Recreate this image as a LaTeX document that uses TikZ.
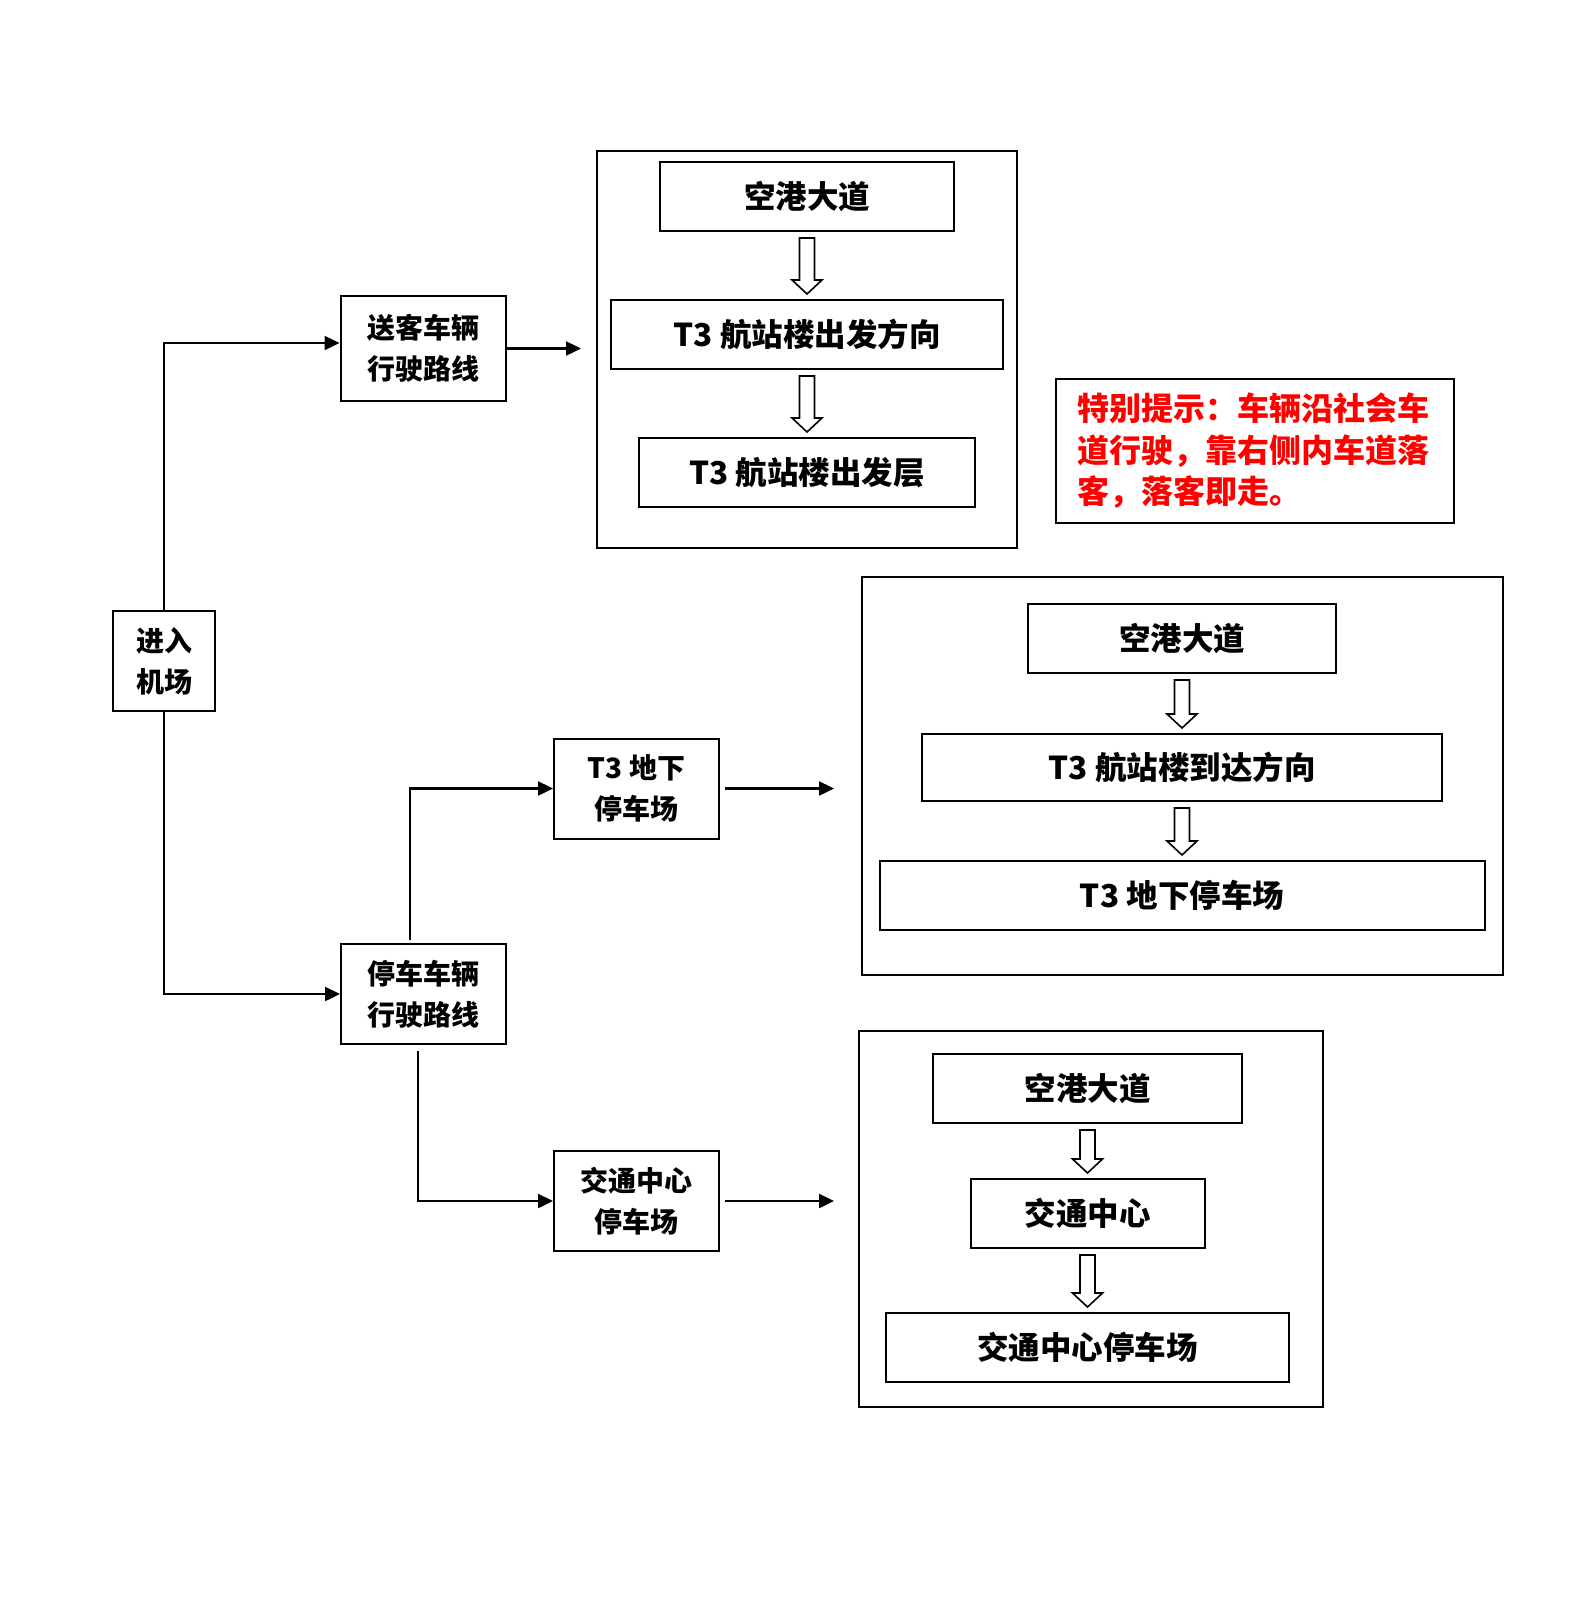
\documentclass[tikz,border=0pt]{standalone}
\usepackage{fontspec}
\setmainfont{Noto Sans CJK SC}
\usetikzlibrary{positioning}
\usetikzlibrary{arrows.meta}
\usetikzlibrary{calc}
\newcommand{\smallcn}{\fontsize{14pt}{20.5pt}\selectfont\bfseries}
\newcommand{\bigcn}{\fontsize{15.75pt}{20pt}\selectfont\bfseries}
\newcommand{\notecn}{\fontsize{16pt}{20.75pt}\selectfont\bfseries}
\tikzset{
  % A route box on the left side
  stepbox/.style={
    draw=black, line width=1pt, align=center, font=\smallcn,
    inner sep=2pt, minimum width=82.5pt, minimum height=50pt},
  % A road or terminal box inside a group
  roadbox/.style={
    draw=black, line width=1pt, align=center, font=\bigcn,
    inner sep=2pt, minimum height=34.5pt, minimum width=#1},
  % A frame around one route
  groupbox/.style={draw=black, line width=1pt, inner sep=0pt},
  % The red hint
  hintbox/.style={
    draw=black, line width=1pt, align=left, font=\notecn, text=red,
    text width=178pt, minimum width=199pt, minimum height=72pt, inner sep=0pt},
  % Connectors
  flow/.style={-{Triangle[length=7.5pt,width=7pt]}, draw=black, line width=1.2pt},
  hollow/.style={draw=black, line width=0.8pt, fill=white, line join=miter},
}
% A hollow block arrow pointing down from one box to the next
\newcommand{\hollowdown}[2]{%
  \draw[hollow] let \p1=($(#1.south)+(0,-3pt)$), \p2=($(#2.north)+(0,2.5pt)$) in
    (\x1-3.75pt,\y1) -- (\x1+3.75pt,\y1) -- (\x1+3.75pt,\y2+7pt) -- (\x1+7.5pt,\y2+7pt)
    -- (\x1,\y2) -- (\x1-7.5pt,\y2+7pt) -- (\x1-3.75pt,\y2+7pt) -- cycle;}

\begin{document}
\begin{tikzpicture}[x=0.5pt, y=-0.5pt]

\useasboundingbox (0,0) rectangle (1594,1600);

% left side
\node[stepbox, minimum width=51pt] (entry) at (164,661) {进入\\机场};
\node[stepbox, minimum height=52.5pt] (drop) at (423,348.5) {送客车辆\\行驶路线};
\node[stepbox] (park) at (423.5,994) {停车车辆\\行驶路线};
\node[stepbox] (t3park) at (636.5,788.5) {T3 地下\\停车场};
\node[stepbox] (gtc) at (636.5,1201) {交通中心\\停车场};

% drop-off route
\node[groupbox, minimum width=210pt, minimum height=198.5pt] (grp1) at (807,349.5) {};
\node[roadbox=147pt] (dep1) at (807,196.5) {空港大道};
\node[roadbox=196pt, below=33.5pt of dep1] (dep2) {T3 航站楼出发方向};
\node[roadbox=168pt, below=33.5pt of dep2] (dep3) {T3 航站楼出发层};
\hollowdown{dep1}{dep2}
\hollowdown{dep2}{dep3}

\node[hintbox] (hint) at (1255,451)
  {特别提示：车辆沿社会车\\道行驶，靠右侧内车道落\\客，落客即走。};

% T3 underground parking route
\node[groupbox, minimum width=320.5pt, minimum height=199pt] (grp2) at (1182.5,776) {};
\node[roadbox=154pt] (arr1) at (1182,638.5) {空港大道};
\node[roadbox=260pt, minimum height=33.5pt, below=29.5pt of arr1] (arr2) {T3 航站楼到达方向};
\node[roadbox=302.5pt, below=29pt of arr2] (arr3) {T3 地下停车场};
\hollowdown{arr1}{arr2}
\hollowdown{arr2}{arr3}

% transport centre route
\node[groupbox, minimum width=232pt, minimum height=188pt] (grp3) at (1091,1219) {};
\node[roadbox=154.5pt] (gtc1) at (1087.5,1088.5) {空港大道};
\node[roadbox=117pt, below=27pt of gtc1] (gtc2) {交通中心};
\node[roadbox=201.5pt, below=31.5pt of gtc2] (gtc3) {交通中心停车场};
\hollowdown{gtc1}{gtc2}
\hollowdown{gtc2}{gtc3}

% connectors
\draw[flow] (entry.north) |- ([yshift=2.75pt]drop.west);
\draw[flow] (entry.south) |- (park.west);
\draw[flow] (drop.east) -- ($(grp1.west |- drop.east)+(-7.5pt,0)$);
\draw[flow] ([xshift=-6.75pt, yshift=1.5pt]park.north) |- (t3park.west);
\draw[flow] ([xshift=-2.75pt, yshift=-3pt]park.south) |- (gtc.west);
\draw[flow] ([xshift=2.5pt]t3park.east) -- ($(grp2.west |- t3park.east)+(-13.5pt,0)$);
\draw[flow] ([xshift=2.5pt]gtc.east) -- ($(grp3.west |- gtc.east)+(-12pt,0)$);

\end{tikzpicture}
\end{document}
